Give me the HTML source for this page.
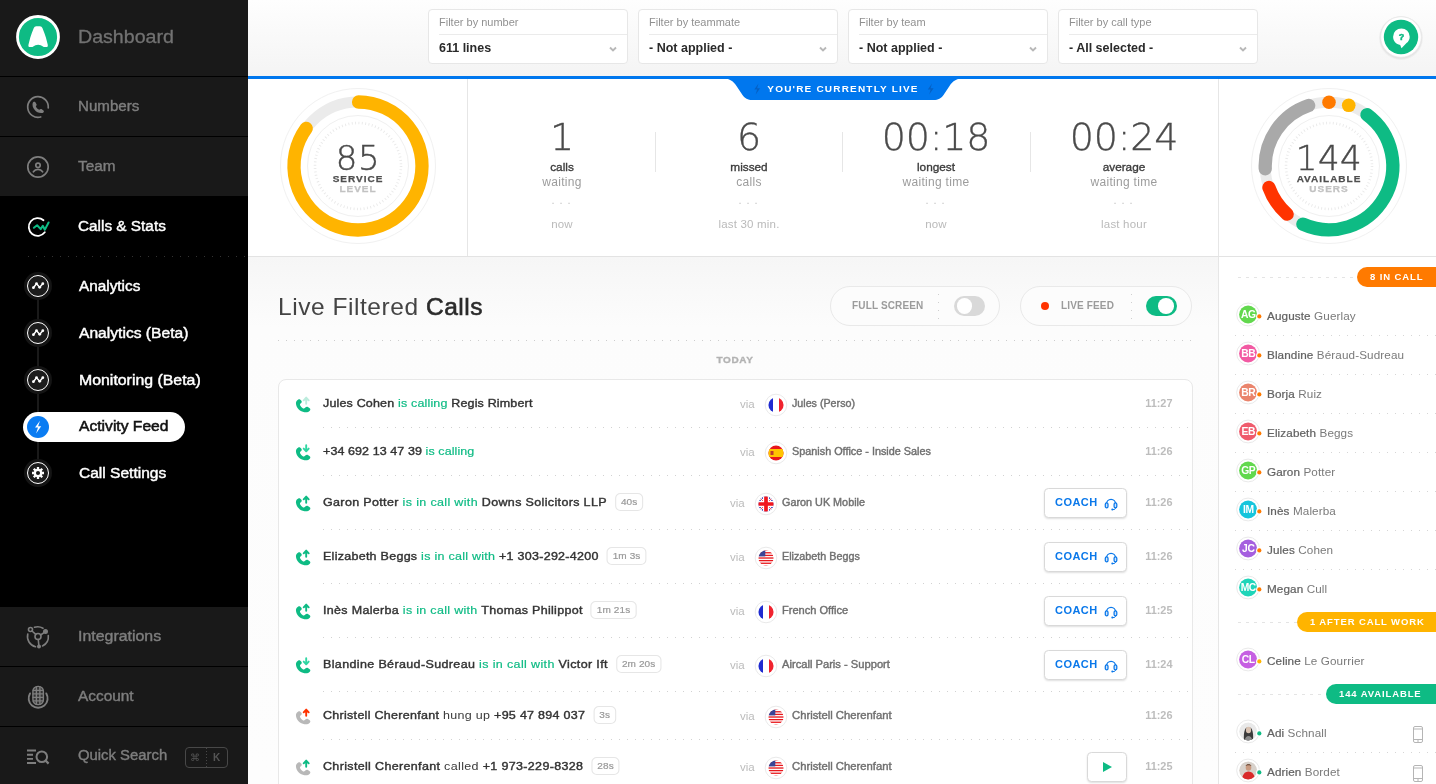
<!DOCTYPE html>
<html lang="en">
<head>
<meta charset="utf-8">
<title>Activity Feed</title>
<style>
*{box-sizing:border-box;margin:0;padding:0}
body{will-change:transform}
html,body{width:1436px;height:784px;overflow:hidden;background:#fcfcfc;font-family:"Liberation Sans",sans-serif;color:#333}
.abs{position:absolute}
#side{position:absolute;left:0;top:0;width:248px;height:784px;background:#000}
.nav{position:absolute;left:0;width:248px;background:#191919;color:#7e7e7e;font-size:14px;-webkit-text-stroke:.38px currentColor}
.nav .lbl{position:absolute;left:78px;top:50%;margin-top:-8.300px;line-height:16px;white-space:nowrap}
.nav svg.ni{position:absolute;left:25px;top:50%;margin-top:-13px}
.sub{position:absolute;left:79px;color:#fff;font-size:14px;line-height:16px;-webkit-text-stroke:.42px currentColor;white-space:nowrap}
.subico{position:absolute;left:23px;width:30px;height:30px}
#top{position:absolute;left:248px;top:0;width:1188px;height:76px;background:linear-gradient(#fefefe,#f4f4f4)}
.filter{position:absolute;top:9px;width:200px;height:55px;background:#fff;border:1px solid #e7e7e7;border-radius:4px}
.filter .l{position:absolute;left:10px;top:5.800px;font-size:10.200px;line-height:13px;color:#919191;white-space:nowrap;transform:scaleX(1.08);transform-origin:left center}
.filter .d{position:absolute;left:10px;right:0;top:24px;height:1px;background:#ebebeb}
.filter .v{position:absolute;left:10px;top:29.900px;font-size:12.500px;line-height:16px;font-weight:bold;color:#2a2a2a;white-space:nowrap}
.filter svg{position:absolute;right:10px;top:35.700px}
#blue{position:absolute;left:248px;top:76px;width:1188px;height:3px;background:#0077ee}
#stats{position:absolute;left:248px;top:79px;width:1188px;height:178px;background:#fff;border-bottom:1px solid #e3e3e3}
.stat{position:absolute;top:0;width:188px;text-align:center}
.stat div{position:absolute;left:0;right:0;white-space:nowrap}
.stat .n{top:33px;font-size:38px;line-height:50px;color:#4a4a4a;font-family:"DejaVu Sans Light","DejaVu Sans",sans-serif;font-weight:200;letter-spacing:-.2px;-webkit-text-stroke:.35px #4a4a4a}
.stat .a{top:81px;font-size:11.800px;line-height:14px;color:#3c3c3c;-webkit-text-stroke:.35px #3c3c3c}
.stat .b{top:96px;font-size:12px;line-height:14px;color:#9c9c9c;letter-spacing:.3px}
.stat .c{left:3px;top:116px;font-size:11px;color:#c4c4c4;letter-spacing:5px;line-height:10px}
.stat .e{top:138px;font-size:11.500px;line-height:14px;color:#bababa;letter-spacing:.2px}
.vd{position:absolute;top:53px;width:1px;height:40px;background:#e6e6e6}
.gtxt{position:absolute;left:0;width:220px;text-align:center;white-space:nowrap}
.gnum{top:59px;font-size:34px;line-height:40px;color:#4a4a4a;font-family:"DejaVu Sans Light","DejaVu Sans",sans-serif;font-weight:200;letter-spacing:.5px;-webkit-text-stroke:.45px #4a4a4a}
.g1{top:94.400px;font-size:8.800px;line-height:12px;font-weight:bold;color:#4f4f4f;letter-spacing:.88px;transform:scaleX(1.136);-webkit-text-stroke:.25px #4f4f4f}
.g2{top:104.400px;font-size:8.800px;line-height:12px;font-weight:bold;color:#c2c2c2;letter-spacing:.88px;transform:scaleX(1.136);-webkit-text-stroke:.25px #c2c2c2}
#live{position:absolute;left:721px;top:78px}
#livet{position:absolute;left:723.500px;top:82.200px;width:238px;text-align:center;font-size:9px;line-height:14px;font-weight:bold;color:#fff;letter-spacing:1.080px;transform:scaleX(1.11)}
#feedbg{position:absolute;left:248px;top:257px;width:970px;height:527px;background:linear-gradient(#f6f6f6,#fcfcfc 70px,#fdfdfd)}
#title{position:absolute;left:278px;top:290.500px;font-size:24.500px;line-height:32px;color:#444;white-space:nowrap;letter-spacing:.55px}
#title b{font-weight:normal;-webkit-text-stroke:.6px #2b2b2b;color:#2b2b2b}
.pill{position:absolute;top:286px;height:40px;border:1px solid #e9e9e9;border-radius:20px;background:#fcfcfc}
.pill .t{position:absolute;top:12.800px;font-size:10px;line-height:12px;font-weight:bold;color:#9b9b9b;letter-spacing:.15px;white-space:nowrap}
.pill .vdot{position:absolute;top:7px;width:1px;height:25px;background:repeating-linear-gradient(180deg,#cfcfcf 0 1px,transparent 1px 8px)}
.tog{position:absolute;top:9.300px;width:30.500px;height:20px;border-radius:10px}
.tog i{position:absolute;top:2.200px;width:15.600px;height:15.600px;border-radius:50%;background:#fff}
.hdot{position:absolute;height:1px;background:repeating-linear-gradient(90deg,#cdcdcd 0 1px,transparent 1px 8px)}
#today{position:absolute;left:278px;width:914px;top:353.700px;text-align:center;font-size:8.700px;line-height:12px;font-weight:bold;color:#b2b2b2;letter-spacing:.55px;transform:scaleX(1.15);-webkit-text-stroke:.3px #b2b2b2}
#card{position:absolute;left:278px;top:379px;width:915px;height:420px;background:#fff;border:1px solid #e8e8e8;border-radius:8px}
.row{position:absolute;left:0;width:913px}
.row .ic{position:absolute;left:14px;top:50%;margin-top:-10px}
.row .tx{position:absolute;left:44px;top:50%;margin-top:-9.700px;font-size:11.600px;line-height:18px;color:#333;white-space:nowrap;-webkit-text-stroke:.4px #333;letter-spacing:.15px;transform:scaleX(1.078);transform-origin:left center}
.row .tx em{font-style:normal;color:#0ebb84;-webkit-text-stroke:.2px #0ebb84}
.row .tx u{text-decoration:none;-webkit-text-stroke:0;color:#3a3a3a}
.row .dur{display:inline-block;vertical-align:top;margin-left:7.400px;height:18px;line-height:16px;padding:0 4.600px;border:1px solid #e6e6e6;border-radius:5px;font-size:9.300px;color:#999;-webkit-text-stroke:.2px #999;letter-spacing:.1px}
.row .via{position:absolute;top:50%;margin-top:-7.400px;font-size:11.500px;line-height:14px;color:#bcbcbc}
.row .fl{position:absolute;top:50%;margin-top:-11.200px}
.row .ln{position:absolute;top:50%;margin-top:-6.800px;font-size:10.400px;line-height:14px;color:#707070;-webkit-text-stroke:.4px #707070;white-space:nowrap;transform-origin:left center}
.row .tm{position:absolute;right:20px;top:50%;margin-top:-7.300px;font-size:10.200px;line-height:14px;color:#bdbdbd;font-weight:bold;transform:scaleX(1.07);transform-origin:right center}
.btn{position:absolute;top:50%;margin-top:-15px;height:29.500px;background:#fff;border:1px solid #d9d9d9;border-radius:4.500px;box-shadow:0 1px 2px rgba(0,0,0,.13)}
.btn span{position:absolute;left:9.700px;top:6.300px;font-size:11px;line-height:14px;font-weight:bold;color:#0a78ea;letter-spacing:.45px}
.sep{position:absolute;left:44px;right:0;height:1px;background:repeating-linear-gradient(90deg,#d2d2d2 0 1px,transparent 1px 8px)}
#right{position:absolute;left:1218px;top:257px;width:218px;height:527px;background:#fff;border-left:1px solid #e6e6e6}
.badge{position:absolute;right:0;height:20px;border-radius:10px 0 0 10px;color:#fff;font-size:9.500px;line-height:20px;font-weight:bold;letter-spacing:.88px;text-align:left;padding-left:13px;white-space:nowrap}
.dash{position:absolute;left:19px;height:1px;background:repeating-linear-gradient(90deg,#e4e4e4 0 3px,transparent 3px 8px)}
.usr{position:absolute;left:0;width:217px;height:39px}
.usr .av{position:absolute;left:17px;top:6.200px}
.usr .nm{position:absolute;left:48px;top:12.800px;font-size:11.100px;line-height:15px;color:#7a7a7a;white-space:nowrap;letter-spacing:.1px;transform:scaleX(1.055);transform-origin:left center}
.usr .nm b{color:#626262;font-weight:normal;-webkit-text-stroke:.22px #626262}
.usr .ph{position:absolute;left:193px;top:12.700px}
.usep{position:absolute;left:16px;right:0;height:1px;background:repeating-linear-gradient(90deg,#d6d6d6 0 1px,transparent 1px 8px)}
</style>
</head>
<body>
<div id="side">
<div class="nav" style="top:0;height:76px"><svg class="ni" width="48" height="48" viewBox="0 0 48 48" style="left:14.200px;margin-top:-25.100px"><circle cx="24" cy="24" r="20.500" fill="#0ebb84" stroke="#fff" stroke-width="2.800"/><path d="M22.200 13.300L26 13.300Q27.700 13.300 28.400 15Q30.800 20.800 31.900 24.500L33.700 31.400Q34.300 34.100 32.200 34.100L30.600 34.100Q29.700 34.100 29 33.500Q27 31.700 24.100 31.700Q21.200 31.700 19.200 33.500Q18.500 34.100 17.600 34.100L16 34.100Q13.900 34.100 14.500 31.400L16.300 24.500Q17.400 20.800 19.800 15Q20.500 13.300 22.200 13.300Z" fill="#fff"/></svg><span class="lbl" style="font-size:17.500px;font-weight:normal;color:#727272;line-height:24px;margin-top:-13.400px;-webkit-text-stroke:.3px #727272"><span style="display:inline-block;transform:scaleX(1.120);transform-origin:left center;">Dashboard</span></span></div>
<div class="nav" style="top:77px;height:59px;"><svg class="ni" width="26" height="26" viewBox="0 0 26 26" fill="none" stroke="#7e7e7e" stroke-width="1.700" stroke-linecap="round"><path d="M23.260 13.900A10.300 10.300 0 1 0 15.670 22.950"/><path d="M7.700 9c.5-1.300 1.700-1.700 2.500-.9l1.300 2.100c.4.800-.1 1.500-.7 2 .7 1.700 1.900 2.900 3.600 3.600.5-.6 1.200-1.100 2-.7l2.100 1.300c.8.800.4 2-.9 2.500-5.400 1.300-11.200-4.500-9.900-9.900z" fill="#7e7e7e" stroke="none"/></svg><span class="lbl" style=""><span style="display:inline-block;transform:scaleX(1.079);transform-origin:left center;">Numbers</span></span></div>
<div class="nav" style="top:137px;height:59px;"><svg class="ni" width="26" height="26" viewBox="0 0 26 26" fill="none" stroke="#7e7e7e" stroke-width="1.700"><circle cx="13" cy="13" r="10.200"/><circle cx="13" cy="11.300" r="2.200"/><path d="M8.400 17.800c1.100-1.700 2.700-2.500 4.600-2.500s3.500.8 4.600 2.500" stroke-linecap="round"/></svg><span class="lbl" style=""><span style="display:inline-block;transform:scaleX(1.096);transform-origin:left center;">Team</span></span></div>
<div class="nav" style="top:197px;height:59px;background:#000;color:#fff"><svg class="ni" width="26" height="26" viewBox="0 0 26 26" fill="none" stroke-linecap="round" stroke-linejoin="round"><path d="M18.500 6.200A8.900 8.900 0 1 0 19.800 18.300" stroke="#fff" stroke-width="1.800"/><path d="M8.900 13.800l3.200-2.500 3.600 3.800 2.100-3.300 2 3.900 3.800-7.200" stroke="#0ebb84" stroke-width="2"/></svg><span class="lbl" style=""><span style="display:inline-block;transform:scaleX(1.096);transform-origin:left center;">Calls &amp; Stats</span></span></div>
<div class="abs" style="left:28px;top:256px;width:220px;height:1px;background:repeating-linear-gradient(90deg,#333 0 1px,transparent 1px 8px)"></div>
<div class="abs" style="left:37px;top:286px;width:2px;height:188px;background:#1a1a1a"></div>
<svg class="subico" style="top:271.0px" viewBox="0 0 30 30"><circle cx="15" cy="15" r="14" fill="#141414"/><circle cx="15" cy="15" r="10.500" fill="#1c1c1c" stroke="#fff" stroke-width="1"/><path d="M10.400 16.700l3.100-4 3.200 3.600 3.100-3.600" fill="none" stroke="#fff" stroke-width="1.400" stroke-linejoin="round"/><g fill="#fff"><circle cx="10.400" cy="16.700" r="1.400"/><circle cx="13.500" cy="12.700" r="1.400"/><circle cx="16.700" cy="16.300" r="1.400"/><circle cx="19.800" cy="12.700" r="1.400"/></g></svg>
<span class="sub" style="top:278.0px"><span style="display:inline-block;transform:scaleX(1.094);transform-origin:left center;">Analytics</span></span>
<svg class="subico" style="top:318.0px" viewBox="0 0 30 30"><circle cx="15" cy="15" r="14" fill="#141414"/><circle cx="15" cy="15" r="10.500" fill="#1c1c1c" stroke="#fff" stroke-width="1"/><path d="M10.400 16.700l3.100-4 3.200 3.600 3.100-3.600" fill="none" stroke="#fff" stroke-width="1.400" stroke-linejoin="round"/><g fill="#fff"><circle cx="10.400" cy="16.700" r="1.400"/><circle cx="13.500" cy="12.700" r="1.400"/><circle cx="16.700" cy="16.300" r="1.400"/><circle cx="19.800" cy="12.700" r="1.400"/></g></svg>
<span class="sub" style="top:325.0px"><span style="display:inline-block;transform:scaleX(1.116);transform-origin:left center;">Analytics (Beta)</span></span>
<svg class="subico" style="top:365.0px" viewBox="0 0 30 30"><circle cx="15" cy="15" r="14" fill="#141414"/><circle cx="15" cy="15" r="10.500" fill="#1c1c1c" stroke="#fff" stroke-width="1"/><path d="M10.400 16.700l3.100-4 3.200 3.600 3.100-3.600" fill="none" stroke="#fff" stroke-width="1.400" stroke-linejoin="round"/><g fill="#fff"><circle cx="10.400" cy="16.700" r="1.400"/><circle cx="13.500" cy="12.700" r="1.400"/><circle cx="16.700" cy="16.300" r="1.400"/><circle cx="19.800" cy="12.700" r="1.400"/></g></svg>
<span class="sub" style="top:372.0px"><span style="display:inline-block;transform:scaleX(1.133);transform-origin:left center;">Monitoring (Beta)</span></span>
<div class="abs" style="left:23px;top:412px;width:162px;height:30px;border-radius:15px;background:#fff"></div>
<svg class="subico" style="top:412px" viewBox="0 0 30 30"><circle cx="15" cy="15" r="11" fill="#0a7cf2"/><path d="M17 8.700l-5 6.900h3l-1.900 5.900 5.100-7.300h-3.100z" fill="#fff"/></svg>
<span class="sub" style="top:417.700px;color:#111;-webkit-text-stroke:.5px #111"><span style="display:inline-block;transform:scaleX(1.117);transform-origin:left center;">Activity Feed</span></span>
<svg class="subico" style="top:458.0px" viewBox="0 0 30 30"><circle cx="15" cy="15" r="14" fill="#141414"/><circle cx="15" cy="15" r="10.500" fill="#1c1c1c" stroke="#fff" stroke-width="1"/><circle cx="15" cy="15" r="3.200" fill="none" stroke="#fff" stroke-width="2.300"/><g stroke="#fff" stroke-width="2.300"><path d="M15 9v2.300M15 18.700V21M9 15h2.300M18.700 15H21M10.760 10.760l1.600 1.600M17.640 17.640l1.600 1.600M10.760 19.240l1.600-1.600M17.640 12.360l1.600-1.600"/></g></svg>
<span class="sub" style="top:464.800px"><span style="display:inline-block;transform:scaleX(1.110);transform-origin:left center;">Call Settings</span></span>
<div class="nav" style="top:607px;height:59px;"><svg class="ni" width="26" height="26" viewBox="0 0 26 26" fill="none" stroke="#7e7e7e" stroke-width="1.600" stroke-linecap="round"><circle cx="13" cy="12.500" r="3"/><circle cx="5.500" cy="5.500" r="2"/><circle cx="20.500" cy="7.500" r="1.700" fill="#7e7e7e"/><circle cx="14" cy="22.500" r="1.200" fill="#7e7e7e"/><path d="M7 7l3.800 3.400M15.600 11l3.400-2.400M13.300 15.500l.5 5.800"/><path d="M9.500 3.300a10.500 10.500 0 0 1 8.500 1M23.300 11.500a10.500 10.500 0 0 1-5.800 10.500M10.500 22.800A10.500 10.500 0 0 1 2.800 10"/></svg><span class="lbl" style=""><span style="display:inline-block;transform:scaleX(1.137);transform-origin:left center;">Integrations</span></span></div>
<div class="nav" style="top:667px;height:59px;"><svg class="ni" width="26" height="26" viewBox="0 0 26 26" fill="none" stroke="#7e7e7e" stroke-width="1.400" stroke-linecap="round"><rect x="7.900" y="2.400" width="10.500" height="18.200" rx="5" fill="#6a6a6a" fill-opacity=".35"/><path d="M11.400 2.800v17.400M14.900 2.800v17.400M8.100 6.400h10.100M8.100 9.900h10.100M8.100 13.400h10.100M8.100 16.900h10.100"/><path d="M5 9.400A9.500 9.500 0 1 0 21.300 9.400" stroke-width="1.900"/></svg><span class="lbl" style=""><span style="display:inline-block;transform:scaleX(1.099);transform-origin:left center;">Account</span></span></div>
<div class="nav" style="top:727px;height:57px"><svg class="ni" width="26" height="26" viewBox="0 0 26 26" fill="none" stroke="#7e7e7e" stroke-width="1.900" style="margin-top:-12.500px"><path d="M2 7.500h9M2 11.700h6M2 15.900h6M2 20h9"/><circle cx="16.800" cy="13.800" r="5.300" stroke-width="2"/><path d="M20.600 17.600l3 3" stroke-width="2.200"/></svg><span class="lbl"><span style="display:inline-block;transform:scaleX(1.061);transform-origin:left center;">Quick Search</span></span><div class="abs" style="left:185px;top:20px;width:43px;height:21px;border:1px solid #484848;border-radius:4px"></div><div class="abs" style="left:206px;top:21px;width:1px;height:19px;background:repeating-linear-gradient(180deg,#484848 0 1px,transparent 1px 3px)"></div><span class="abs" style="left:190px;top:24.500px;font-size:10px;line-height:12px;color:#555;font-weight:normal;-webkit-text-stroke:0">&#8984;</span><span class="abs" style="left:213px;top:24.500px;font-size:10px;line-height:12px;color:#555;font-weight:bold;-webkit-text-stroke:0">K</span></div>
</div>
<div id="top">
<div class="filter" style="left:180px"><span class="l">Filter by number</span><div class="d"></div><span class="v">611 lines</span><svg width="8" height="6" viewBox="0 0 8 6"><path d="M1 1.500l3 3 3-3" fill="none" stroke="#b8b8b8" stroke-width="1.900"/></svg></div>
<div class="filter" style="left:390px"><span class="l">Filter by teammate</span><div class="d"></div><span class="v">- Not applied -</span><svg width="8" height="6" viewBox="0 0 8 6"><path d="M1 1.500l3 3 3-3" fill="none" stroke="#b8b8b8" stroke-width="1.900"/></svg></div>
<div class="filter" style="left:600px"><span class="l">Filter by team</span><div class="d"></div><span class="v">- Not applied -</span><svg width="8" height="6" viewBox="0 0 8 6"><path d="M1 1.500l3 3 3-3" fill="none" stroke="#b8b8b8" stroke-width="1.900"/></svg></div>
<div class="filter" style="left:810px"><span class="l">Filter by call type</span><div class="d"></div><span class="v">- All selected -</span><svg width="8" height="6" viewBox="0 0 8 6"><path d="M1 1.500l3 3 3-3" fill="none" stroke="#b8b8b8" stroke-width="1.900"/></svg></div>
<svg class="abs" style="left:1129px;top:12.600px" width="48" height="48" viewBox="0 0 48 48"><circle cx="24" cy="25" r="22" fill="#000" opacity=".035"/><circle cx="24" cy="24.500" r="21.300" fill="#000" opacity=".04"/><circle cx="24" cy="24" r="20.300" fill="#fff" stroke="#e9e9e9" stroke-width=".8"/><circle cx="24" cy="24" r="17.200" fill="#0ebb84"/><path d="M24.400 15.400a8.300 8.300 0 0 1 8.300 8.300c0 2.600-1.200 4.900-3.200 6.400l-5 5.200-1.300-3.400c-4.100-.6-7.100-4.100-7.100-8.200a8.300 8.300 0 0 1 8.300-8.300z" fill="#fff"/><text x="24.400" y="27.300" font-size="9" font-weight="bold" fill="#0ebb84" stroke="#0ebb84" stroke-width=".5" text-anchor="middle" font-family="Liberation Sans,sans-serif">?</text></svg>
</div><div id="blue"></div>
<div id="stats">
<div class="abs" style="left:219px;top:0;width:1px;height:177px;background:#e6e6e6"></div>
<div class="abs" style="left:970px;top:0;width:1px;height:177px;background:#e6e6e6"></div>
<div class="stat" style="left:220px"><div class="n">1</div><div class="a"><span style="display:inline-block;transform:scaleX(1.000);transform-origin:center center;">calls</span></div><div class="b">waiting</div><div class="c">...</div><div class="e">now</div></div>
<div class="vd" style="left:407px"></div>
<div class="stat" style="left:407px"><div class="n">6</div><div class="a"><span style="display:inline-block;transform:scaleX(1.000);transform-origin:center center;">missed</span></div><div class="b">calls</div><div class="c">...</div><div class="e">last 30 min.</div></div>
<div class="vd" style="left:594px"></div>
<div class="stat" style="left:594px"><div class="n">00:18</div><div class="a"><span style="display:inline-block;transform:scaleX(1.000);transform-origin:center center;">longest</span></div><div class="b">waiting time</div><div class="c">...</div><div class="e">now</div></div>
<div class="vd" style="left:782px"></div>
<div class="stat" style="left:782px"><div class="n">00:24</div><div class="a"><span style="display:inline-block;transform:scaleX(1.000);transform-origin:center center;">average</span></div><div class="b">waiting time</div><div class="c">...</div><div class="e">last hour</div></div>
<svg class="abs" style="left:0;top:0" width="220" height="177" viewBox="0 0 220 177" fill="none"><circle cx="110" cy="87" r="77.500" stroke="#f1f1f1" stroke-width="1"/><circle cx="110" cy="87" r="64" stroke="#ebebeb" stroke-width="11"/><circle cx="110" cy="87" r="50.500" stroke="#f0f0f0" stroke-width="1"/><circle cx="110" cy="87" r="43" stroke="#e9e9e9" stroke-width="2.600" stroke-dasharray=".9 2.480"/><path d="M110.56 23.00A64 64 0 1 1 58.22 49.38" stroke="#ffb400" stroke-width="13.3" stroke-linecap="round"/></svg>
<div class="gtxt gnum">85</div><div class="gtxt g1">SERVICE</div><div class="gtxt g2">LEVEL</div>
<svg class="abs" style="left:971px;top:0" width="217" height="177" viewBox="0 0 217 177" fill="none"><circle cx="110" cy="87" r="77.500" stroke="#f1f1f1" stroke-width="1"/><circle cx="110" cy="87" r="63.8" stroke="#ebebeb" stroke-width="11"/><circle cx="110" cy="87" r="50.500" stroke="#f0f0f0" stroke-width="1"/><circle cx="110" cy="87" r="43" stroke="#e9e9e9" stroke-width="2.600" stroke-dasharray=".9 2.480"/><path d="M46.26 89.78A63.8 63.8 0 0 1 89.65 26.53" stroke="#a9a9a9" stroke-width="13.3" stroke-linecap="round"/><path d="M147.95 35.71A63.8 63.8 0 0 1 83.85 145.19" stroke="#0ebb84" stroke-width="13.3" stroke-linecap="round"/><path d="M68.14 135.15A63.8 63.8 0 0 1 49.93 108.51" stroke="#ff3300" stroke-width="13.3" stroke-linecap="round"/><circle cx="110.00" cy="23.20" r="6.800" fill="#ff7a00"/><circle cx="129.72" cy="26.32" r="6.800" fill="#ffb400"/></svg>
<div class="gtxt gnum" style="left:971px">144</div><div class="gtxt g1" style="left:971px">AVAILABLE</div><div class="gtxt g2" style="left:971px">USERS</div>
</div>
<svg id="live" width="244" height="23" viewBox="0 0 244 23"><path d="M0 0h244c-8 0-12.500 3-15.500 8l-6 9c-2.500 3.500-5 5-10 5H31.500c-5 0-7.500-1.500-10-5l-6-9C12.500 3 8 0 0 0z" fill="#0077ee"/><path d="M37.500 5.500l-4.200 6h2.800l-1.400 5 4.400-6.200h-3z" fill="#0560c4"/><path d="M211 5.500l-4.200 6h2.800l-1.400 5 4.400-6.200h-3z" fill="#0560c4"/></svg>
<div id="livet">YOU'RE CURRENTLY LIVE</div>
<div id="feedbg"></div>
<div id="title">Live Filtered <b>Calls</b></div>
<div class="pill" style="left:830px;width:170px"><span class="t" style="left:21px">FULL SCREEN</span><div class="vdot" style="left:107px"></div><div class="tog" style="left:123px;background:#d9d9d9"><i style="left:2.500px"></i></div></div>
<div class="pill" style="left:1020px;width:172px"><div class="abs" style="left:20px;top:15px;width:8px;height:8px;border-radius:50%;background:#ff3300"></div><span class="t" style="left:40px">LIVE FEED</span><div class="vdot" style="left:110px"></div><div class="tog" style="left:125px;background:#0ebb84"><i style="right:2.500px"></i></div></div>
<div class="hdot" style="left:278px;top:340px;width:915px"></div>
<div id="today">TODAY</div>
<div id="card">
<div class="row" style="top:0px;height:48px"><svg class="ic" width="20" height="20" viewBox="0 0 20 20"><path transform="scale(1,.96)" d="M5 5.900C3.500 6.500 2.700 8.300 3 10.500C3.500 14.700 7.100 18.500 11.500 19C13.800 19.300 15.900 18.700 17 17.100C17.600 16.300 17.400 15.400 16.700 14.900L14.900 13.600C14.100 13.100 13.200 13.200 12.600 13.900L11.900 14.700C11.400 15.200 10.700 15.300 10.100 15C8.700 14.200 7.700 13.100 7.100 11.700C6.800 11.100 7 10.400 7.500 9.900L8.200 9.300C8.900 8.700 8.900 7.800 8.400 7.100L7.100 5.800C6.500 5.300 5.800 5.500 5 5.900Z" fill="#0ebb84"/><path d="M13.200 9.800V4.300M10.700 6.300l2.500-2.700 2.500 2.700" fill="none" stroke="#0ebb84" stroke-width="1.900" stroke-linecap="round" stroke-linejoin="round" opacity=".28"/></svg><div class="tx" style="letter-spacing:0.155px">Jules Cohen <em>is calling</em> Regis Rimbert</div><span class="via" style="left:461px">via</span><svg class="fl" style="left:485.4px" width="24" height="24"viewBox="0 0 24 24"><circle cx="12" cy="12" r="10.800" fill="#fff" stroke="#e7e7e7" stroke-width=".9"/><defs><clipPath id="c0"><circle cx="12" cy="12" r="7.550"/></clipPath></defs><g clip-path="url(#c0)"><rect x="3" y="3" width="6" height="18" fill="#1f2bd0"/><rect x="9" y="3" width="6" height="18" fill="#fff"/><rect x="15" y="3" width="6" height="18" fill="#f0232e"/></g></svg><span class="ln" style="left:513px;transform:scaleX(1.029)">Jules (Perso)</span><span class="tm">11:27</span></div>
<div class="sep" style="top:47px"></div>
<div class="row" style="top:48px;height:48px"><svg class="ic" width="20" height="20" viewBox="0 0 20 20"><path transform="scale(1,.96)" d="M5 5.900C3.500 6.500 2.700 8.300 3 10.500C3.500 14.700 7.100 18.500 11.500 19C13.800 19.300 15.900 18.700 17 17.100C17.600 16.300 17.400 15.400 16.700 14.900L14.900 13.600C14.100 13.100 13.200 13.200 12.600 13.900L11.900 14.700C11.400 15.200 10.700 15.300 10.100 15C8.700 14.200 7.700 13.100 7.100 11.700C6.800 11.100 7 10.400 7.500 9.900L8.200 9.300C8.900 8.700 8.900 7.800 8.400 7.100L7.100 5.800C6.500 5.300 5.800 5.500 5 5.900Z" fill="#0ebb84"/><path d="M13.200 3.300v5.200M10.700 6.600l2.500 2.700 2.500-2.700" fill="none" stroke="#2fd6a2" stroke-width="1.900" stroke-linecap="round" stroke-linejoin="round"/></svg><div class="tx" style="letter-spacing:0.080px">+34 692 13 47 39 <em>is calling</em></div><span class="via" style="left:461px">via</span><svg class="fl" style="left:485.4px" width="24" height="24"viewBox="0 0 24 24"><circle cx="12" cy="12" r="10.800" fill="#fff" stroke="#e7e7e7" stroke-width=".9"/><defs><clipPath id="c1"><circle cx="12" cy="12" r="7.550"/></clipPath></defs><g clip-path="url(#c1)"><rect x="3" y="3" width="18" height="18" fill="#e8161b"/><rect x="3" y="8" width="18" height="8" fill="#ffc400"/><rect x="6.500" y="10" width="3" height="4" fill="#c0392b"/></g></svg><span class="ln" style="left:513px;transform:scaleX(1.043)">Spanish Office - Inside Sales</span><span class="tm">11:26</span></div>
<div class="sep" style="top:95px"></div>
<div class="row" style="top:96px;height:54px"><svg class="ic" width="20" height="20" viewBox="0 0 20 20"><path transform="scale(1,.96)" d="M5 5.900C3.500 6.500 2.700 8.300 3 10.500C3.500 14.700 7.100 18.500 11.500 19C13.800 19.300 15.900 18.700 17 17.100C17.600 16.300 17.400 15.400 16.700 14.900L14.900 13.600C14.100 13.100 13.200 13.200 12.600 13.900L11.900 14.700C11.400 15.200 10.700 15.300 10.100 15C8.700 14.200 7.700 13.100 7.100 11.700C6.800 11.100 7 10.400 7.500 9.900L8.200 9.300C8.900 8.700 8.900 7.800 8.400 7.100L7.100 5.800C6.500 5.300 5.800 5.500 5 5.900Z" fill="#0ebb84"/><path d="M13.200 9.800V4.300M10.700 6.300l2.500-2.700 2.500 2.700" fill="none" stroke="#0ebb84" stroke-width="1.900" stroke-linecap="round" stroke-linejoin="round"/></svg><div class="tx" style="letter-spacing:0.325px">Garon Potter <em>is in call with</em> Downs Solicitors LLP<span class="dur">40s</span></div><span class="via" style="left:451px">via</span><svg class="fl" style="left:475.4px" width="24" height="24"viewBox="0 0 24 24"><circle cx="12" cy="12" r="10.800" fill="#fff" stroke="#e7e7e7" stroke-width=".9"/><defs><clipPath id="c2"><circle cx="12" cy="12" r="7.550"/></clipPath></defs><g clip-path="url(#c2)"><rect x="3" y="3" width="18" height="18" fill="#1b1fae"/><path d="M3 3l18 18M21 3L3 21" stroke="#fff" stroke-width="2.400"/><path d="M3 3l18 18M21 3L3 21" stroke="#e8161b" stroke-width=".7"/><path d="M12 3v18M3 12h18" stroke="#fff" stroke-width="6"/><path d="M12 3v18M3 12h18" stroke="#f0141e" stroke-width="3.700"/></g></svg><span class="ln" style="left:503px;transform:scaleX(1.041)">Garon UK Mobile</span><span class="tm">11:26</span><div class="btn" style="left:765.300px;width:82.700px"><span>COACH</span><svg class="abs" style="left:58.700px;top:9.400px" width="15" height="14" viewBox="0 0 15 14" fill="none" stroke="#0a78ea" stroke-width="1.250" stroke-linecap="round"><path d="M2.500 6V5.800a4.550 4.550 0 0 1 9.100 0V6"/><rect x="1.300" y="4.900" width="2.700" height="4.900" rx="1.350" fill="#cfe4fb"/><rect x="10.100" y="4.900" width="2.700" height="4.900" rx="1.350" fill="#cfe4fb"/><path d="M11.700 9.900c0 1.100-1 1.700-2.500 1.700" stroke-width="1"/><circle cx="8.300" cy="11.600" r="1" fill="#0a78ea" stroke="none"/></svg></div></div>
<div class="sep" style="top:149px"></div>
<div class="row" style="top:150px;height:54px"><svg class="ic" width="20" height="20" viewBox="0 0 20 20"><path transform="scale(1,.96)" d="M5 5.900C3.500 6.500 2.700 8.300 3 10.500C3.500 14.700 7.100 18.500 11.500 19C13.800 19.300 15.900 18.700 17 17.100C17.600 16.300 17.400 15.400 16.700 14.900L14.900 13.600C14.100 13.100 13.200 13.200 12.600 13.900L11.900 14.700C11.400 15.200 10.700 15.300 10.100 15C8.700 14.200 7.700 13.100 7.100 11.700C6.800 11.100 7 10.400 7.500 9.900L8.200 9.300C8.900 8.700 8.900 7.800 8.400 7.100L7.100 5.800C6.500 5.300 5.800 5.500 5 5.900Z" fill="#0ebb84"/><path d="M13.200 9.800V4.300M10.700 6.300l2.500-2.700 2.500 2.700" fill="none" stroke="#0ebb84" stroke-width="1.900" stroke-linecap="round" stroke-linejoin="round"/></svg><div class="tx" style="letter-spacing:0.250px">Elizabeth Beggs <em>is in call with</em> +1 303-292-4200<span class="dur">1m 3s</span></div><span class="via" style="left:451px">via</span><svg class="fl" style="left:475.4px" width="24" height="24"viewBox="0 0 24 24"><circle cx="12" cy="12" r="10.800" fill="#fff" stroke="#e7e7e7" stroke-width=".9"/><defs><clipPath id="c3"><circle cx="12" cy="12" r="7.550"/></clipPath></defs><g clip-path="url(#c3)"><rect x="3" y="3" width="18" height="18" fill="#fff"/><rect x="3" y="3.50" width="18" height="1.310" fill="#e8161b"/><rect x="3" y="6.12" width="18" height="1.310" fill="#e8161b"/><rect x="3" y="8.74" width="18" height="1.310" fill="#e8161b"/><rect x="3" y="11.36" width="18" height="1.310" fill="#e8161b"/><rect x="3" y="13.98" width="18" height="1.310" fill="#e8161b"/><rect x="3" y="16.60" width="18" height="1.310" fill="#e8161b"/><rect x="3" y="19.22" width="18" height="1.310" fill="#e8161b"/><rect x="3" y="3" width="8.300" height="7.400" fill="#3a4496"/></g></svg><span class="ln" style="left:503px;transform:scaleX(1.037)">Elizabeth Beggs</span><span class="tm">11:26</span><div class="btn" style="left:765.300px;width:82.700px"><span>COACH</span><svg class="abs" style="left:58.700px;top:9.400px" width="15" height="14" viewBox="0 0 15 14" fill="none" stroke="#0a78ea" stroke-width="1.250" stroke-linecap="round"><path d="M2.500 6V5.800a4.550 4.550 0 0 1 9.100 0V6"/><rect x="1.300" y="4.900" width="2.700" height="4.900" rx="1.350" fill="#cfe4fb"/><rect x="10.100" y="4.900" width="2.700" height="4.900" rx="1.350" fill="#cfe4fb"/><path d="M11.700 9.900c0 1.100-1 1.700-2.500 1.700" stroke-width="1"/><circle cx="8.300" cy="11.600" r="1" fill="#0a78ea" stroke="none"/></svg></div></div>
<div class="sep" style="top:203px"></div>
<div class="row" style="top:204px;height:54px"><svg class="ic" width="20" height="20" viewBox="0 0 20 20"><path transform="scale(1,.96)" d="M5 5.900C3.500 6.500 2.700 8.300 3 10.500C3.500 14.700 7.100 18.500 11.500 19C13.800 19.300 15.900 18.700 17 17.100C17.600 16.300 17.400 15.400 16.700 14.900L14.900 13.600C14.100 13.100 13.200 13.200 12.600 13.900L11.900 14.700C11.400 15.200 10.700 15.300 10.100 15C8.700 14.200 7.700 13.100 7.100 11.700C6.800 11.100 7 10.400 7.500 9.900L8.200 9.300C8.900 8.700 8.900 7.800 8.400 7.100L7.100 5.800C6.500 5.300 5.800 5.500 5 5.900Z" fill="#0ebb84"/><path d="M13.200 9.800V4.300M10.700 6.300l2.500-2.700 2.500 2.700" fill="none" stroke="#0ebb84" stroke-width="1.900" stroke-linecap="round" stroke-linejoin="round"/></svg><div class="tx" style="letter-spacing:0.290px">Inès Malerba <em>is in call with</em> Thomas Philippot<span class="dur">1m 21s</span></div><span class="via" style="left:451px">via</span><svg class="fl" style="left:475.4px" width="24" height="24"viewBox="0 0 24 24"><circle cx="12" cy="12" r="10.800" fill="#fff" stroke="#e7e7e7" stroke-width=".9"/><defs><clipPath id="c4"><circle cx="12" cy="12" r="7.550"/></clipPath></defs><g clip-path="url(#c4)"><rect x="3" y="3" width="6" height="18" fill="#1f2bd0"/><rect x="9" y="3" width="6" height="18" fill="#fff"/><rect x="15" y="3" width="6" height="18" fill="#f0232e"/></g></svg><span class="ln" style="left:503px;transform:scaleX(1.064)">French Office</span><span class="tm">11:25</span><div class="btn" style="left:765.300px;width:82.700px"><span>COACH</span><svg class="abs" style="left:58.700px;top:9.400px" width="15" height="14" viewBox="0 0 15 14" fill="none" stroke="#0a78ea" stroke-width="1.250" stroke-linecap="round"><path d="M2.500 6V5.800a4.550 4.550 0 0 1 9.100 0V6"/><rect x="1.300" y="4.900" width="2.700" height="4.900" rx="1.350" fill="#cfe4fb"/><rect x="10.100" y="4.900" width="2.700" height="4.900" rx="1.350" fill="#cfe4fb"/><path d="M11.700 9.900c0 1.100-1 1.700-2.500 1.700" stroke-width="1"/><circle cx="8.300" cy="11.600" r="1" fill="#0a78ea" stroke="none"/></svg></div></div>
<div class="sep" style="top:257px"></div>
<div class="row" style="top:258px;height:54px"><svg class="ic" width="20" height="20" viewBox="0 0 20 20"><path transform="scale(1,.96)" d="M5 5.900C3.500 6.500 2.700 8.300 3 10.500C3.500 14.700 7.100 18.500 11.500 19C13.800 19.300 15.900 18.700 17 17.100C17.600 16.300 17.400 15.400 16.700 14.900L14.900 13.600C14.100 13.100 13.200 13.200 12.600 13.900L11.900 14.700C11.400 15.200 10.700 15.300 10.100 15C8.700 14.200 7.700 13.100 7.100 11.700C6.800 11.100 7 10.400 7.500 9.900L8.200 9.300C8.900 8.700 8.900 7.800 8.400 7.100L7.100 5.800C6.500 5.300 5.800 5.500 5 5.900Z" fill="#0ebb84"/><path d="M13.200 3.300v5.200M10.700 6.600l2.500 2.700 2.500-2.700" fill="none" stroke="#2fd6a2" stroke-width="1.900" stroke-linecap="round" stroke-linejoin="round"/></svg><div class="tx" style="letter-spacing:0.340px">Blandine Béraud-Sudreau <em>is in call with</em> Victor Ift<span class="dur">2m 20s</span></div><span class="via" style="left:451px">via</span><svg class="fl" style="left:475.4px" width="24" height="24"viewBox="0 0 24 24"><circle cx="12" cy="12" r="10.800" fill="#fff" stroke="#e7e7e7" stroke-width=".9"/><defs><clipPath id="c5"><circle cx="12" cy="12" r="7.550"/></clipPath></defs><g clip-path="url(#c5)"><rect x="3" y="3" width="6" height="18" fill="#1f2bd0"/><rect x="9" y="3" width="6" height="18" fill="#fff"/><rect x="15" y="3" width="6" height="18" fill="#f0232e"/></g></svg><span class="ln" style="left:503px;transform:scaleX(1.074)">Aircall Paris - Support</span><span class="tm">11:24</span><div class="btn" style="left:765.300px;width:82.700px"><span>COACH</span><svg class="abs" style="left:58.700px;top:9.400px" width="15" height="14" viewBox="0 0 15 14" fill="none" stroke="#0a78ea" stroke-width="1.250" stroke-linecap="round"><path d="M2.500 6V5.800a4.550 4.550 0 0 1 9.100 0V6"/><rect x="1.300" y="4.900" width="2.700" height="4.900" rx="1.350" fill="#cfe4fb"/><rect x="10.100" y="4.900" width="2.700" height="4.900" rx="1.350" fill="#cfe4fb"/><path d="M11.700 9.900c0 1.100-1 1.700-2.500 1.700" stroke-width="1"/><circle cx="8.300" cy="11.600" r="1" fill="#0a78ea" stroke="none"/></svg></div></div>
<div class="sep" style="top:311px"></div>
<div class="row" style="top:312px;height:48px"><svg class="ic" width="20" height="20" viewBox="0 0 20 20"><path transform="scale(1,.96)" d="M5 5.900C3.500 6.500 2.700 8.300 3 10.500C3.500 14.700 7.100 18.500 11.500 19C13.800 19.300 15.900 18.700 17 17.100C17.600 16.300 17.400 15.400 16.700 14.900L14.900 13.600C14.100 13.100 13.200 13.200 12.600 13.900L11.900 14.700C11.400 15.200 10.700 15.300 10.100 15C8.700 14.200 7.700 13.100 7.100 11.700C6.800 11.100 7 10.400 7.500 9.900L8.200 9.300C8.900 8.700 8.900 7.800 8.400 7.100L7.100 5.800C6.500 5.300 5.800 5.500 5 5.900Z" fill="#b8b8b8"/><path d="M13.200 9.800V4.300M10.700 6.300l2.500-2.700 2.500 2.700" fill="none" stroke="#ff3300" stroke-width="1.900" stroke-linecap="round" stroke-linejoin="round"/></svg><div class="tx" style="letter-spacing:0.270px">Christell Cherenfant <u>hung up</u> +95 47 894 037<span class="dur">3s</span></div><span class="via" style="left:461px">via</span><svg class="fl" style="left:485.4px" width="24" height="24"viewBox="0 0 24 24"><circle cx="12" cy="12" r="10.800" fill="#fff" stroke="#e7e7e7" stroke-width=".9"/><defs><clipPath id="c6"><circle cx="12" cy="12" r="7.550"/></clipPath></defs><g clip-path="url(#c6)"><rect x="3" y="3" width="18" height="18" fill="#fff"/><rect x="3" y="3.50" width="18" height="1.310" fill="#e8161b"/><rect x="3" y="6.12" width="18" height="1.310" fill="#e8161b"/><rect x="3" y="8.74" width="18" height="1.310" fill="#e8161b"/><rect x="3" y="11.36" width="18" height="1.310" fill="#e8161b"/><rect x="3" y="13.98" width="18" height="1.310" fill="#e8161b"/><rect x="3" y="16.60" width="18" height="1.310" fill="#e8161b"/><rect x="3" y="19.22" width="18" height="1.310" fill="#e8161b"/><rect x="3" y="3" width="8.300" height="7.400" fill="#3a4496"/></g></svg><span class="ln" style="left:513px;transform:scaleX(1.085)">Christell Cherenfant</span><span class="tm">11:26</span></div>
<div class="sep" style="top:359px"></div>
<div class="row" style="top:360px;height:54px"><svg class="ic" width="20" height="20" viewBox="0 0 20 20"><path transform="scale(1,.96)" d="M5 5.900C3.500 6.500 2.700 8.300 3 10.500C3.500 14.700 7.100 18.500 11.500 19C13.800 19.300 15.900 18.700 17 17.100C17.600 16.300 17.400 15.400 16.700 14.900L14.900 13.600C14.100 13.100 13.200 13.200 12.600 13.900L11.900 14.700C11.400 15.200 10.700 15.300 10.100 15C8.700 14.200 7.700 13.100 7.100 11.700C6.800 11.100 7 10.400 7.500 9.900L8.200 9.300C8.900 8.700 8.900 7.800 8.400 7.100L7.100 5.800C6.500 5.300 5.800 5.500 5 5.900Z" fill="#b8b8b8"/><path d="M13.200 9.800V4.300M10.700 6.300l2.500-2.700 2.500 2.700" fill="none" stroke="#0ebb84" stroke-width="1.900" stroke-linecap="round" stroke-linejoin="round"/></svg><div class="tx" style="letter-spacing:0.318px">Christell Cherenfant <u>called</u> +1 973-229-8328<span class="dur">28s</span></div><span class="via" style="left:461px">via</span><svg class="fl" style="left:485.4px" width="24" height="24"viewBox="0 0 24 24"><circle cx="12" cy="12" r="10.800" fill="#fff" stroke="#e7e7e7" stroke-width=".9"/><defs><clipPath id="c7"><circle cx="12" cy="12" r="7.550"/></clipPath></defs><g clip-path="url(#c7)"><rect x="3" y="3" width="18" height="18" fill="#fff"/><rect x="3" y="3.50" width="18" height="1.310" fill="#e8161b"/><rect x="3" y="6.12" width="18" height="1.310" fill="#e8161b"/><rect x="3" y="8.74" width="18" height="1.310" fill="#e8161b"/><rect x="3" y="11.36" width="18" height="1.310" fill="#e8161b"/><rect x="3" y="13.98" width="18" height="1.310" fill="#e8161b"/><rect x="3" y="16.60" width="18" height="1.310" fill="#e8161b"/><rect x="3" y="19.22" width="18" height="1.310" fill="#e8161b"/><rect x="3" y="3" width="8.300" height="7.400" fill="#3a4496"/></g></svg><span class="ln" style="left:513px;transform:scaleX(1.085)">Christell Cherenfant</span><span class="tm">11:25</span><div class="btn" style="left:807.800px;width:40.200px"><svg class="abs" style="left:13px;top:8.300px" width="12" height="12" viewBox="0 0 12 12"><path d="M2 1l9 5-9 5z" fill="#0ebb84"/></svg></div></div>
</div>
<div id="right"><div class="abs" style="left:0;top:-1px;width:217px;height:528px">
<div class="dash" style="top:21px;width:120px"></div>
<div class="badge" style="top:11px;width:79px;background:#ff7a00">8 IN CALL</div>
<div class="dash" style="top:366px;width:60px"></div>
<div class="badge" style="top:356px;width:139px;background:#ffb400">1 AFTER CALL WORK</div>
<div class="dash" style="top:438px;width:90px"></div>
<div class="badge" style="top:428px;width:110px;background:#0ebb84">144 AVAILABLE</div>
<div class="usr" style="top:40px"><svg class="av" width="28" height="26" viewBox="0 0 28 26"><circle cx="12.100" cy="12.500" r="11.400" fill="#fff" stroke="#e6e6e6" stroke-width=".9"/><circle cx="12.100" cy="12.500" r="9" fill="#62d84e"/><text x="12.300" y="16.200" text-anchor="middle" font-family="Liberation Sans,sans-serif" font-size="10.300" letter-spacing="-.35" font-weight="bold" fill="#fff">AG</text><circle cx="23.300" cy="14.400" r="3.200" fill="#fff"/><circle cx="23.300" cy="14.400" r="2.100" fill="#ff7a00"/></svg><span class="nm"><b>Auguste</b> Guerlay</span></div>
<div class="usr" style="top:79px"><svg class="av" width="28" height="26" viewBox="0 0 28 26"><circle cx="12.100" cy="12.500" r="11.400" fill="#fff" stroke="#e6e6e6" stroke-width=".9"/><circle cx="12.100" cy="12.500" r="9" fill="#f25aa3"/><text x="12.300" y="16.200" text-anchor="middle" font-family="Liberation Sans,sans-serif" font-size="10.300" letter-spacing="-.35" font-weight="bold" fill="#fff">BB</text><circle cx="23.300" cy="14.400" r="3.200" fill="#fff"/><circle cx="23.300" cy="14.400" r="2.100" fill="#ff7a00"/></svg><span class="nm"><b>Blandine</b> Béraud-Sudreau</span></div>
<div class="usr" style="top:118px"><svg class="av" width="28" height="26" viewBox="0 0 28 26"><circle cx="12.100" cy="12.500" r="11.400" fill="#fff" stroke="#e6e6e6" stroke-width=".9"/><circle cx="12.100" cy="12.500" r="9" fill="#ea846c"/><text x="12.300" y="16.200" text-anchor="middle" font-family="Liberation Sans,sans-serif" font-size="10.300" letter-spacing="-.35" font-weight="bold" fill="#fff">BR</text><circle cx="23.300" cy="14.400" r="3.200" fill="#fff"/><circle cx="23.300" cy="14.400" r="2.100" fill="#ff7a00"/></svg><span class="nm"><b>Borja</b> Ruiz</span></div>
<div class="usr" style="top:157px"><svg class="av" width="28" height="26" viewBox="0 0 28 26"><circle cx="12.100" cy="12.500" r="11.400" fill="#fff" stroke="#e6e6e6" stroke-width=".9"/><circle cx="12.100" cy="12.500" r="9" fill="#ef5b6c"/><text x="12.300" y="16.200" text-anchor="middle" font-family="Liberation Sans,sans-serif" font-size="10.300" letter-spacing="-.35" font-weight="bold" fill="#fff">EB</text><circle cx="23.300" cy="14.400" r="3.200" fill="#fff"/><circle cx="23.300" cy="14.400" r="2.100" fill="#ff7a00"/></svg><span class="nm"><b>Elizabeth</b> Beggs</span></div>
<div class="usr" style="top:196px"><svg class="av" width="28" height="26" viewBox="0 0 28 26"><circle cx="12.100" cy="12.500" r="11.400" fill="#fff" stroke="#e6e6e6" stroke-width=".9"/><circle cx="12.100" cy="12.500" r="9" fill="#62d84e"/><text x="12.300" y="16.200" text-anchor="middle" font-family="Liberation Sans,sans-serif" font-size="10.300" letter-spacing="-.35" font-weight="bold" fill="#fff">GP</text><circle cx="23.300" cy="14.400" r="3.200" fill="#fff"/><circle cx="23.300" cy="14.400" r="2.100" fill="#ff7a00"/></svg><span class="nm"><b>Garon</b> Potter</span></div>
<div class="usr" style="top:235px"><svg class="av" width="28" height="26" viewBox="0 0 28 26"><circle cx="12.100" cy="12.500" r="11.400" fill="#fff" stroke="#e6e6e6" stroke-width=".9"/><circle cx="12.100" cy="12.500" r="9" fill="#16c5dc"/><text x="12.300" y="16.200" text-anchor="middle" font-family="Liberation Sans,sans-serif" font-size="10.300" letter-spacing="-.35" font-weight="bold" fill="#fff">IM</text><circle cx="23.300" cy="14.400" r="3.200" fill="#fff"/><circle cx="23.300" cy="14.400" r="2.100" fill="#ff7a00"/></svg><span class="nm"><b>Inès</b> Malerba</span></div>
<div class="usr" style="top:274px"><svg class="av" width="28" height="26" viewBox="0 0 28 26"><circle cx="12.100" cy="12.500" r="11.400" fill="#fff" stroke="#e6e6e6" stroke-width=".9"/><circle cx="12.100" cy="12.500" r="9" fill="#a55fdf"/><text x="12.300" y="16.200" text-anchor="middle" font-family="Liberation Sans,sans-serif" font-size="10.300" letter-spacing="-.35" font-weight="bold" fill="#fff">JC</text><circle cx="23.300" cy="14.400" r="3.200" fill="#fff"/><circle cx="23.300" cy="14.400" r="2.100" fill="#ff7a00"/></svg><span class="nm"><b>Jules</b> Cohen</span></div>
<div class="usr" style="top:313px"><svg class="av" width="28" height="26" viewBox="0 0 28 26"><circle cx="12.100" cy="12.500" r="11.400" fill="#fff" stroke="#e6e6e6" stroke-width=".9"/><circle cx="12.100" cy="12.500" r="9" fill="#1fd5b9"/><text x="12.300" y="16.200" text-anchor="middle" font-family="Liberation Sans,sans-serif" font-size="10.300" letter-spacing="-.35" font-weight="bold" fill="#fff">MC</text><circle cx="23.300" cy="14.400" r="3.200" fill="#fff"/><circle cx="23.300" cy="14.400" r="2.100" fill="#ff7a00"/></svg><span class="nm"><b>Megan</b> Cull</span></div>
<div class="usr" style="top:385px"><svg class="av" width="28" height="26" viewBox="0 0 28 26"><circle cx="12.100" cy="12.500" r="11.400" fill="#fff" stroke="#e6e6e6" stroke-width=".9"/><circle cx="12.100" cy="12.500" r="9" fill="#c660e2"/><text x="12.300" y="16.200" text-anchor="middle" font-family="Liberation Sans,sans-serif" font-size="10.300" letter-spacing="-.35" font-weight="bold" fill="#fff">CL</text><circle cx="23.300" cy="14.400" r="3.200" fill="#fff"/><circle cx="23.300" cy="14.400" r="2.100" fill="#ffb400"/></svg><span class="nm"><b>Celine</b> Le Gourrier</span></div>
<div class="usr" style="top:457px"><svg class="av" width="28" height="26" viewBox="0 0 28 26"><defs><clipPath id="padi"><circle cx="12.100" cy="12.500" r="9"/></clipPath></defs><circle cx="12.100" cy="12.500" r="11.400" fill="#fff" stroke="#e6e6e6" stroke-width=".9"/><g clip-path="url(#padi)"><circle cx="12.500" cy="12.500" r="9.500" fill="#e9e9e9"/><path d="M8 22c-.5-5 0-9 1-11.500 1-3 6-3 7 0 1 2.500 1.500 6.500 1 11.500z" fill="#3a3a3a"/><ellipse cx="12.500" cy="11" rx="2.600" ry="3.300" fill="#d9c3b3"/><path d="M8.500 22c.5-3.500 2-5 4-5s3.500 1.500 4 5z" fill="#8a8a8a"/></g><circle cx="23.300" cy="14.400" r="3.200" fill="#fff"/><circle cx="23.300" cy="14.400" r="2.100" fill="#0ebb84"/></svg><span class="nm"><b>Adi</b> Schnall</span><svg class="ph" width="12" height="17" viewBox="0 0 12 17" fill="none" stroke="#b5b5b5" stroke-width="1"><rect x="1.500" y=".5" width="9" height="16" rx="1.500"/><path d="M1.500 3h9M1.500 13.500h9M5 15h2"/></svg></div>
<div class="usr" style="top:496px"><svg class="av" width="28" height="26" viewBox="0 0 28 26"><defs><clipPath id="padr"><circle cx="12.100" cy="12.500" r="9"/></clipPath></defs><circle cx="12.100" cy="12.500" r="11.400" fill="#fff" stroke="#e6e6e6" stroke-width=".9"/><g clip-path="url(#padr)"><circle cx="12.500" cy="12.500" r="9.500" fill="#d8d2cc"/><ellipse cx="12.500" cy="9.500" rx="2.800" ry="3.300" fill="#c99a80"/><path d="M9.600 8c.3-2.500 5.500-2.500 5.800 0-.8-1-5-1-5.800 0z" fill="#5a3a28"/><path d="M6 22c.3-5 2.500-8.500 6.500-8.500S18.700 17 19 22z" fill="#d92a2a"/></g><circle cx="23.300" cy="14.400" r="3.200" fill="#fff"/><circle cx="23.300" cy="14.400" r="2.100" fill="#0ebb84"/></svg><span class="nm"><b>Adrien</b> Bordet</span><svg class="ph" width="12" height="17" viewBox="0 0 12 17" fill="none" stroke="#b5b5b5" stroke-width="1"><rect x="1.500" y=".5" width="9" height="16" rx="1.500"/><path d="M1.500 3h9M1.500 13.500h9M5 15h2"/></svg></div>
<div class="usep" style="top:79px"></div>
<div class="usep" style="top:118px"></div>
<div class="usep" style="top:157px"></div>
<div class="usep" style="top:196px"></div>
<div class="usep" style="top:235px"></div>
<div class="usep" style="top:274px"></div>
<div class="usep" style="top:313px"></div>
<div class="usep" style="top:496px"></div>
</div></div>
</body>
</html>
